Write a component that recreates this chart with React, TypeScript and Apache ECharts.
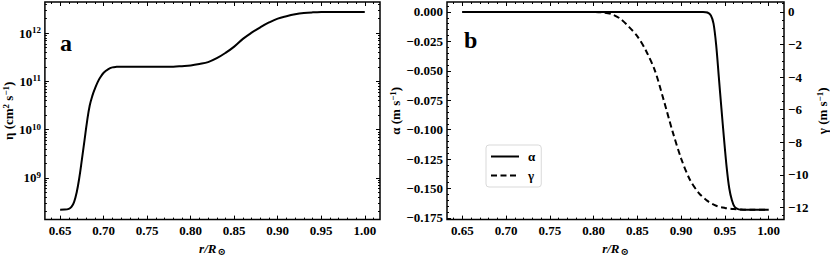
import React, { useEffect, useRef } from 'react';
import * as echarts from 'echarts';

// ---- Panel a: magnetic diffusivity eta (cm^2 s^-1) vs r/Rsun ----
const rEta = [0.650, 0.655, 0.660, 0.663, 0.666, 0.669, 0.672, 0.675, 0.678, 0.681, 0.684, 0.687, 0.690, 0.693, 0.696, 0.700, 0.705, 0.710, 0.715, 0.720, 0.750, 0.780, 0.790, 0.800, 0.810, 0.820, 0.830, 0.840, 0.850, 0.860, 0.870, 0.880, 0.890, 0.900, 0.910, 0.920, 0.930, 0.940, 0.950, 0.960, 0.980, 1.000];
const etaVals = [2.2e8, 2.21e8, 2.29e8, 2.51e8, 3.16e8, 5.01e8, 1.0e9, 2.4e9, 6.03e9, 1.51e10, 3.16e10, 5.01e10, 7.08e10, 9.55e10, 1.2e11, 1.51e11, 1.78e11, 1.95e11, 2.0e11, 2.02e11, 2.02e11, 2.02e11, 2.07e11, 2.14e11, 2.29e11, 2.51e11, 3.02e11, 3.89e11, 5.25e11, 7.59e11, 1.02e12, 1.32e12, 1.66e12, 2.0e12, 2.24e12, 2.45e12, 2.6e12, 2.69e12, 2.74e12, 2.75e12, 2.75e12, 2.75e12];

// ---- Panel b: alpha (m s^-1) and gamma (m s^-1) vs r/Rsun ----
const rAlpha = [0.650, 0.700, 0.800, 0.900, 0.925, 0.930, 0.934, 0.937, 0.940, 0.943, 0.946, 0.949, 0.952, 0.955, 0.958, 0.961, 0.965, 0.970, 0.980, 1.000];
const alphaVals = [0, 0, 0, 0, 0, -0.0005, -0.003, -0.010, -0.028, -0.055, -0.082, -0.108, -0.132, -0.150, -0.160, -0.1655, -0.1675, -0.168, -0.168, -0.168];

const rGamma = [0.650, 0.700, 0.800, 0.810, 0.820, 0.830, 0.840, 0.850, 0.860, 0.870, 0.880, 0.890, 0.900, 0.910, 0.920, 0.930, 0.940, 0.950, 0.960, 0.970, 0.980, 1.000];
const gammaVals = [0, 0, 0, -0.03, -0.13, -0.4, -0.9, -1.5, -2.4, -3.6, -5.4, -7.3, -9.0, -10.3, -11.1, -11.6, -11.9, -12.03, -12.1, -12.13, -12.14, -12.14];

// ---- Tick labels ----
const xTicks = [0.65, 0.70, 0.75, 0.80, 0.85, 0.90, 0.95, 1.00];
const etaTicks = [1e9, 1e10, 1e11, 1e12];
const alphaTicks = [0, -0.025, -0.05, -0.075, -0.1, -0.125, -0.15, -0.175];
const gammaTicks = [0, -2, -4, -6, -8, -10, -12];

const FONT = "'Liberation Serif', 'Times New Roman', 'DejaVu Serif', serif";
const MINUS = '\u2212';

function pad(lo: number, hi: number, log = false): [number, number] {
  if (log) {
    const a = Math.log10(lo), b = Math.log10(hi), m = (b - a) * 0.05;
    return [Math.pow(10, a - m), Math.pow(10, b + m)];
  }
  const m = (hi - lo) * 0.05;
  return [lo - m, hi + m];
}

function range(start: number, end: number, step: number): number[] {
  const out: number[] = [];
  const n = Math.round((end - start) / step);
  for (let i = 0; i <= n; i++) out.push(+(start + i * step).toFixed(6));
  return out;
}

const xExt = pad(Math.min(...rEta), Math.max(...rEta));
const etaExt = pad(Math.min(...etaVals), Math.max(...etaVals), true);
const alphaExt = pad(Math.min(...alphaVals), Math.max(...alphaVals));
const gammaExt = pad(Math.min(...gammaVals), Math.max(...gammaVals));

const xMinor = range(0.63, 1.02, 0.01);
const alphaMinor = range(-0.18, 0.01, 0.005);
const gammaMinor = range(-13, 1, 0.5);
const etaMinor: number[] = [];
for (let e = 8; e <= 12; e++) for (let k = 2; k <= 9; k++) etaMinor.push(k * Math.pow(10, e));

const labelStyle = { fontFamily: FONT, fontWeight: 'bold' as const, fontSize: 13, color: '#000' };
const nameRich = {
  n: { fontFamily: FONT, fontWeight: 'bold' as const, fontSize: 13, color: '#000' },
  i: { fontFamily: FONT, fontWeight: 'bold' as const, fontStyle: 'italic' as const, fontSize: 13, color: '#000' },
  sup: { fontFamily: FONT, fontWeight: 'bold' as const, fontSize: 9, color: '#000', verticalAlign: 'top' as const, padding: [0, 0, 6, 0] },
  sub: { fontFamily: FONT, fontWeight: 'bold' as const, fontSize: 10, color: '#000', padding: [6, 0, 0, 1] },
};

function axis(opts: {
  grid: number; position: string; type?: string; ext: [number, number]; ticks: number[]; len: number;
  label?: boolean; formatter?: (v: number) => string; name?: string; nameGap?: number;
}) {
  const a: any = {
    type: opts.type || 'value',
    gridIndex: opts.grid,
    position: opts.position,
    min: opts.ext[0],
    max: opts.ext[1],
    axisLine: { show: false, onZero: false },
    splitLine: { show: false },
    axisPointer: { show: false },
    axisTick: { show: true, inside: true, length: opts.len, lineStyle: { color: '#000', width: 1 }, customValues: opts.ticks },
    axisLabel: opts.label
      ? { show: true, customValues: opts.ticks, formatter: opts.formatter, margin: 4, ...labelStyle, rich: nameRich, showMinLabel: true, showMaxLabel: true }
      : { show: false },
    z: 5,
  };
  if (opts.name) {
    a.name = opts.name;
    a.nameLocation = 'middle';
    a.nameGap = opts.nameGap;
    a.nameTextStyle = { ...labelStyle, rich: nameRich };
  }
  return a;
}

const xName = '{i|r/R}{sub|\u2299}';
const xFmt = (v: number) => v.toFixed(2);
const etaFmt = (v: number) => `{n|10}{sup|${Math.round(Math.log10(v))}}`;
const alphaFmt = (v: number) => (v < 0 ? MINUS + Math.abs(v).toFixed(3) : v.toFixed(3));
const gammaFmt = (v: number) => (v < 0 ? MINUS + Math.abs(v).toString() : v.toString());

export default function App() {
  const ref = useRef<HTMLDivElement>(null);
  useEffect(() => {
    if (!ref.current) return;
    const chart = echarts.init(ref.current, undefined, { renderer: 'svg' });
    const MAJ = 4, MIN = 2;
    const option: any = {
      animation: false,
      backgroundColor: '#fff',
      grid: [
        { left: 42, top: 2, width: 338, height: 227, show: true, borderColor: '#000', borderWidth: 1.5, backgroundColor: 'transparent' },
        { left: 447, top: 2, width: 337, height: 227, show: true, borderColor: '#000', borderWidth: 1.5, backgroundColor: 'transparent' },
      ],
      xAxis: [
        axis({ grid: 0, position: 'bottom', ext: xExt, ticks: xTicks, len: MAJ, label: true, formatter: xFmt, name: xName, nameGap: 18 }),
        axis({ grid: 0, position: 'top', ext: xExt, ticks: xTicks, len: MAJ }),
        axis({ grid: 0, position: 'bottom', ext: xExt, ticks: xMinor, len: MIN }),
        axis({ grid: 0, position: 'top', ext: xExt, ticks: xMinor, len: MIN }),
        axis({ grid: 1, position: 'bottom', ext: xExt, ticks: xTicks, len: MAJ, label: true, formatter: xFmt, name: xName, nameGap: 18 }),
        axis({ grid: 1, position: 'top', ext: xExt, ticks: xTicks, len: MAJ }),
        axis({ grid: 1, position: 'bottom', ext: xExt, ticks: xMinor, len: MIN }),
        axis({ grid: 1, position: 'top', ext: xExt, ticks: xMinor, len: MIN }),
      ],
      yAxis: [
        axis({ grid: 0, position: 'left', type: 'log', ext: etaExt, ticks: etaTicks, len: MAJ, label: true, formatter: etaFmt, name: '\u03b7 (cm{sup|2} s{sup|\u22121})', nameGap: 26 }),
        axis({ grid: 0, position: 'right', type: 'log', ext: etaExt, ticks: etaTicks, len: MAJ }),
        axis({ grid: 0, position: 'left', type: 'log', ext: etaExt, ticks: etaMinor, len: MIN }),
        axis({ grid: 0, position: 'right', type: 'log', ext: etaExt, ticks: etaMinor, len: MIN }),
        axis({ grid: 1, position: 'left', ext: alphaExt, ticks: alphaTicks, len: MAJ, label: true, formatter: alphaFmt, name: '\u03b1 (m s{sup|\u22121})', nameGap: 30 }),
        axis({ grid: 1, position: 'left', ext: alphaExt, ticks: alphaMinor, len: MIN }),
        axis({ grid: 1, position: 'right', ext: gammaExt, ticks: gammaTicks, len: MAJ, label: true, formatter: gammaFmt, name: '\u03b3 (m s{sup|\u22121})', nameGap: 31 }),
        axis({ grid: 1, position: 'right', ext: gammaExt, ticks: gammaMinor, len: MIN }),
      ],
      legend: {
        data: ['\u03b1', '\u03b3'],
        orient: 'vertical',
        left: 486,
        top: 145,
        itemWidth: 28,
        itemHeight: 10,
        itemGap: 6,
        padding: [5, 6, 5, 4],
        borderColor: '#d9d9d9',
        borderWidth: 1,
        borderRadius: 3,
        backgroundColor: '#fff',
        itemStyle: { opacity: 0, borderWidth: 0 },
        textStyle: { ...labelStyle, padding: [0, 0, 0, 4] },
      },
      graphic: [
        { type: 'text', left: 60, top: 31, style: { text: 'a', font: `bold 24px ${FONT}`, fill: '#000' } },
        { type: 'text', left: 464, top: 28, style: { text: 'b', font: `bold 24px ${FONT}`, fill: '#000' } },
      ],
      series: [
        {
          name: '\u03b7', type: 'line', xAxisIndex: 0, yAxisIndex: 0, symbol: 'none', smooth: 0.4,
          data: rEta.map((r, i) => [r, etaVals[i]]),
          lineStyle: { color: '#000', width: 2 },
        },
        {
          name: '\u03b1', type: 'line', xAxisIndex: 4, yAxisIndex: 4, symbol: 'none', smooth: 0.3,
          data: rAlpha.map((r, i) => [r, alphaVals[i]]),
          lineStyle: { color: '#000', width: 2 }, itemStyle: { color: '#000' },
        },
        {
          name: '\u03b3', type: 'line', xAxisIndex: 4, yAxisIndex: 6, symbol: 'none', smooth: 0.3,
          data: rGamma.map((r, i) => [r, gammaVals[i]]),
          lineStyle: { color: '#000', width: 2, type: [6, 3.5] }, itemStyle: { color: '#000' },
        },
      ],
    };
    chart.setOption(option);
    return () => chart.dispose();
  }, []);
  return <div ref={ref} style={{ width: 830, height: 261, position: 'absolute', left: 0, top: 0 }} />;
}
